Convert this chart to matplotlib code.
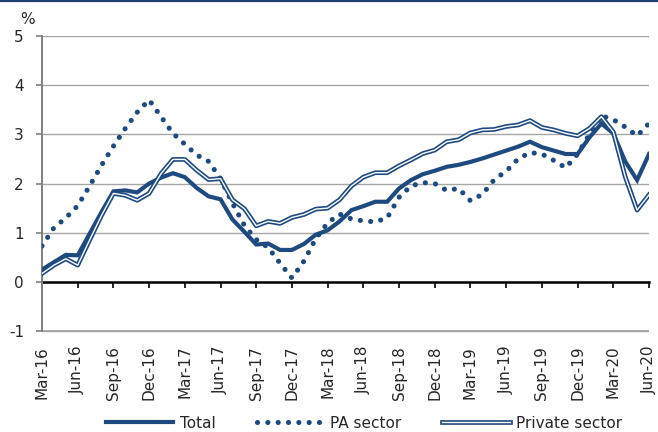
import numpy as np
import matplotlib
matplotlib.use('Agg')
import matplotlib.pyplot as plt
from matplotlib.lines import Line2D
from matplotlib.legend_handler import HandlerTuple

# monthly values, Mar-16 .. Jun-20 (%)
total = [0.25, 0.40, 0.55, 0.54, 0.98, 1.42, 1.84, 1.86, 1.82, 2.00, 2.12, 2.21,
         2.13, 1.91, 1.74, 1.68, 1.27, 1.02, 0.76, 0.78, 0.65, 0.65, 0.77, 0.96,
         1.05, 1.23, 1.46, 1.54, 1.63, 1.63, 1.90, 2.07, 2.19, 2.26, 2.34, 2.38,
         2.44, 2.51, 2.59, 2.67, 2.75, 2.85, 2.74, 2.67, 2.60, 2.60, 2.94, 3.22,
         3.02, 2.45, 2.07, 2.60]
pa_sector = [0.73, 1.10, 1.30, 1.55, 1.95, 2.37, 2.76, 3.12, 3.45, 3.70, 3.36, 3.02,
             2.80, 2.58, 2.45, 2.10, 1.60, 1.15, 0.86, 0.70, 0.38, 0.08, 0.42, 0.88,
             1.20, 1.38, 1.28, 1.24, 1.22, 1.30, 1.72, 1.95, 2.02, 2.00, 1.86, 1.90,
             1.65, 1.78, 2.08, 2.25, 2.50, 2.63, 2.60, 2.47, 2.32, 2.60, 3.00, 3.38,
             3.30, 3.15, 2.97, 3.22]
private_sector = [0.17, 0.34, 0.47, 0.34, 0.85, 1.35, 1.80, 1.76, 1.66, 1.80, 2.20, 2.49,
                  2.49, 2.27, 2.08, 2.10, 1.67, 1.49, 1.14, 1.23, 1.19, 1.31, 1.37, 1.48,
                  1.50, 1.67, 1.95, 2.13, 2.22, 2.22, 2.36, 2.48, 2.61, 2.68, 2.85, 2.89,
                  3.03, 3.09, 3.10, 3.16, 3.19, 3.28, 3.14, 3.09, 3.02, 2.97, 3.12, 3.36,
                  3.05, 2.14, 1.46, 1.77]
tick_labels = ['Mar-16', 'Jun-16', 'Sep-16', 'Dec-16', 'Mar-17', 'Jun-17', 'Sep-17',
               'Dec-17', 'Mar-18', 'Jun-18', 'Sep-18', 'Dec-18', 'Mar-19', 'Jun-19',
               'Sep-19', 'Dec-19', 'Mar-20', 'Jun-20']

navy = '#1F4A7F'
x = np.arange(len(total))

plt.rcParams['font.family'] = ['DejaVu Sans']
plt.rcParams['axes.unicode_minus'] = False
fig = plt.figure(figsize=(6.58, 4.32), dpi=100)
# axes box runs a little below -1 so the -1 gridline is not on the edge
ax = fig.add_axes([42 / 658, 1 - 336 / 432, (649 - 42) / 658, (336 - 35.5) / 432])

# lines
tot_line, = ax.plot(x, total, color=navy, lw=3.0, solid_joinstyle='miter', zorder=4)
pa_line, = ax.plot(x, pa_sector, color=navy, lw=3.7, linestyle=(0, (0.01, 2.0)),
                   dash_capstyle='round', zorder=3)
pr_outer, = ax.plot(x, private_sector, color=navy, lw=3.4, zorder=5)
pr_inner, = ax.plot(x, private_sector, color='white', lw=1.0, zorder=6)

# axes styling
ax.set_xlim(0, len(total) - 1)
ax.set_ylim(-1.1, 5.01)
ax.set_yticks(range(-1, 6))
ax.set_xticks(x[::3])
ax.set_xticklabels(tick_labels)
ax.grid(axis='y', color='#A6A6A6', lw=1.0)
ax.axhline(-1, color='#A0A0A0', lw=1.2, zorder=1)
ax.set_axisbelow(True)
for s in ['top', 'right']:
    ax.spines[s].set_visible(False)
ax.spines['left'].set_color('#808080')
ax.spines['left'].set_linewidth(1.4)
ax.spines['left'].set_bounds(-1, 5)
ax.spines['bottom'].set_position(('data', 0))
ax.spines['bottom'].set_color('black')
ax.spines['bottom'].set_linewidth(1.8)
ax.spines['bottom'].set_zorder(2)
ax.tick_params(axis='y', colors='#808080', labelcolor='#262626', length=4,
               width=1.2, pad=9, labelsize=11)
ax.tick_params(axis='x', color='black', labelcolor='#262626', length=4, width=1.2,
               pad=42, labelsize=11, labelrotation=90)

fig.text(27 / 658, 1 - 19 / 432, '%', fontsize=11, color='#262626',
         ha='center', va='center')

# dark rule along the top
fig.add_artist(Line2D([0, 1], [1 - 1 / 432, 1 - 1 / 432], color='#1F3F6E', lw=1.6))

fig.legend([tot_line, pa_line, (pr_outer, pr_inner)],
           ['Total', 'PA sector', 'Private sector'],
           handler_map={tuple: HandlerTuple(ndivide=1)},
           loc='center', bbox_to_anchor=(364 / 658, 1 - 423 / 432), ncol=3,
           frameon=False, fontsize=11, handlelength=4.4, handletextpad=0.4,
           columnspacing=2.7, borderpad=0, labelcolor='#262626')

fig.savefig('out.png', dpi=100)
